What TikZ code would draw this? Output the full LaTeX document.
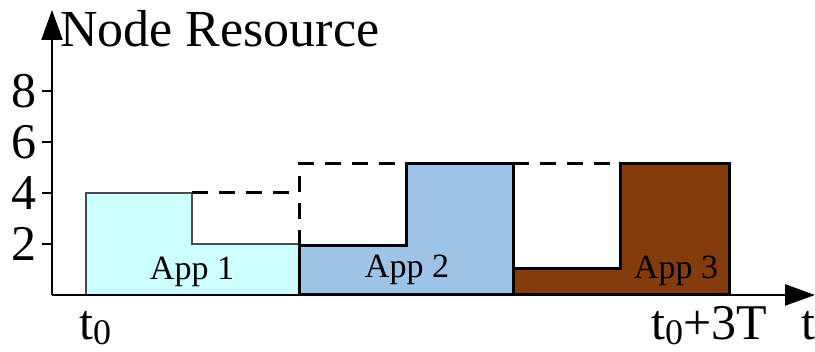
\documentclass[tikz,border=0pt]{standalone}
\usepackage{fontspec}
\setmainfont{Liberation Serif}
\usetikzlibrary{arrows.meta}
\definecolor{appone}{HTML}{CCFFFF}
\definecolor{apptwo}{HTML}{9DC3E6}
\definecolor{appthree}{HTML}{843C0C}
\definecolor{edgegray}{HTML}{4A4A4A}
\newcommand{\subzero}{\raisebox{-5pt}{\fontsize{36}{40}\selectfont 0}}
\tikzset{
  x=1pt, y=1pt,
  axisline/.style={line width=2.4pt, -{Triangle[length=30pt,width=21pt]}},
  tickline/.style={line width=2.4pt},
  bigtext/.style={font=\fontsize{50}{60}\selectfont, inner sep=0pt},
  titletext/.style={font=\fontsize{52}{62}\selectfont, inner sep=0pt},
  applabel/.style={font=\fontsize{34}{40}\selectfont, inner sep=0pt, anchor=base},
  reserved/.style={line width=3pt, dash pattern=on 16pt off 11pt},
  lightblock/.style={fill=appone, draw=edgegray, line width=2pt},
  darkblock/.style={draw=black, line width=3pt, line join=miter},
}
\begin{document}
\begin{tikzpicture}
\useasboundingbox (0,0) rectangle (815,352);

% axes
\coordinate (o) at (52,57);
\coordinate (ytop) at (52,342);
\coordinate (xend) at (815,57);
\draw[axisline] (o) -- (ytop);
\draw[axisline] (o) -- (xend);

% ticks and their labels
\foreach \v/\yy in {2/108,4/159,6/210,8/261}{
  \coordinate (tick\v) at (52,\yy);
  \draw[tickline] (tick\v) -- ++(-10,0);
  \node[bigtext, anchor=east] (lab\v) at (37,\yy) {\v};
}

% application blocks
\path[lightblock] (86,57) -- (86,159) -- (192,159) -- (192,108)
  -- (299,108) -- (299,57) -- cycle;
\path[darkblock, fill=apptwo] (299,57) -- (299,106) -- (406,106)
  -- (406,188) -- (513,188) -- (513,57) -- cycle;
\path[darkblock, fill=appthree] (513,57) -- (513,83) -- (620,83)
  -- (620,188) -- (729,188) -- (729,57) -- cycle;
\draw[line width=2.4pt] (o) -- (729,57);

% reserved capacity (dashed)
\draw[reserved] (192,159) -- (299,159);
\draw[reserved] (299,106) -- (299,188) -- (406,188);
\draw[reserved] (513,188) -- (620,188);

% labels
\node[titletext, anchor=base west] (title) at (60,305) {Node Resource};
\node[applabel] (app1) at (192,72) {App 1};
\node[applabel] (app2) at (407,74) {App 2};
\node[applabel] (app3) at (676,73) {App 3};
\node[bigtext, anchor=base west] (tstart) at (79,12) {t\subzero};
\node[bigtext, anchor=base west] (tend) at (651,12) {t\subzero+3T};
\node[bigtext, anchor=base west] (taxis) at (801,12) {t};
\end{tikzpicture}
\end{document}
